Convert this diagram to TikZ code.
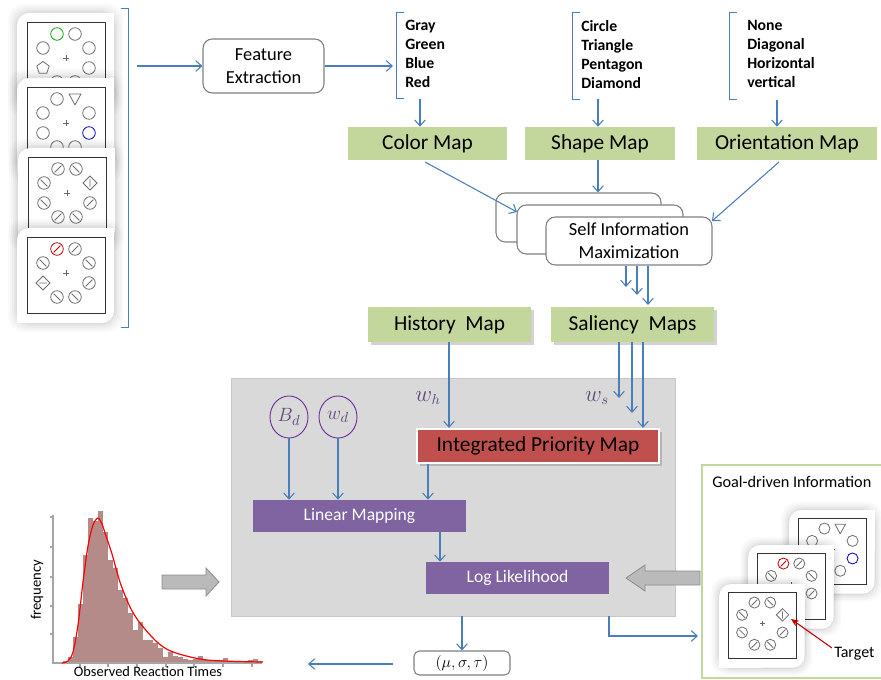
\documentclass[tikz,border=0pt]{standalone}
\usepackage{fontspec}
\setmainfont{Carlito}
\usetikzlibrary{arrows.meta,shadows,calc,shapes.geometric}
\definecolor{arrowblue}{HTML}{4A7EBB}
\definecolor{mapgreen}{HTML}{C3D69B}
\definecolor{iprred}{HTML}{C0504D}
\definecolor{lmpurple}{HTML}{8064A2}
\definecolor{boxgray}{HTML}{D9D9D9}
\definecolor{paramviolet}{HTML}{7030A0}
\definecolor{wlabel}{HTML}{5F497A}
\definecolor{histbar}{HTML}{B58B8A}
\definecolor{itemgray}{HTML}{6E6E6E}

\newcommand\itmC[3][itemgray]{\draw[#1,line width=0.6pt] (#2,#3) circle[radius=4.7pt];}
\newcommand\itmS[3][itemgray]{\draw[#1,line width=0.6pt] (#2,#3) circle[radius=4.7pt] (#2-3.3,#3+3.3) -- (#2+3.3,#3-3.3);}
\newcommand\itmB[3][itemgray]{\draw[#1,line width=0.6pt] (#2,#3) circle[radius=4.7pt] (#2-3.3,#3-3.3) -- (#2+3.3,#3+3.3);}
\newcommand\itmT[2]{\draw[itemgray,line width=0.6pt,line join=round] (#1-6,#2-5) -- (#1+6,#2-5) -- (#1,#2+6) -- cycle;}
\newcommand\itmP[2]{\draw[itemgray,line width=0.6pt,line join=round] (#1,#2-6.5) -- (#1+6.2,#2-2) -- (#1+3.8,#2+5.3) -- (#1-3.8,#2+5.3) -- (#1-6.2,#2-2) -- cycle;}
\newcommand\itmDv[2]{\draw[itemgray,line width=0.6pt] (#1,#2-7) -- (#1+7,#2) -- (#1,#2+7) -- (#1-7,#2) -- cycle (#1,#2-4) -- (#1,#2+4);}
\newcommand\itmDh[2]{\draw[itemgray,line width=0.6pt] (#1,#2-7) -- (#1+7,#2) -- (#1,#2+7) -- (#1-7,#2) -- cycle (#1-4,#2) -- (#1+4,#2);}

\newcommand\contA{\itmC[green!65!black]{30}{12}\itmC{48}{12}\itmC{16}{26}\itmC{62}{26}\itmP{16}{46}\itmC{62}{46}\itmC{30}{60}\itmC{48}{60}}
\newcommand\contB{\itmC{30}{12}\itmT{48}{12}\itmC{16}{26}\itmC{62}{26}\itmC{16}{46}\itmC[blue!75!black]{62}{46}\itmC{30}{60}\itmC{48}{60}}
\newcommand\contC{\itmS{30}{12}\itmB{48}{12}\itmB{16}{26}\itmDv{62}{26}\itmB{16}{46}\itmS{62}{46}\itmS{30}{60}\itmB{48}{60}}
\newcommand\contD{\itmS[red!75!black]{30}{12}\itmS{48}{12}\itmB{16}{26}\itmB{62}{26}\itmDh{16}{46}\itmS{62}{46}\itmB{30}{60}\itmB{48}{60}}

\newcommand\stimcard[4]{%
 \begin{scope}[shift={(#1,#2)},scale=#3]
  \foreach \g/\o in {9/0.018,7/0.022,5/0.026,3/0.03,1.5/0.035} {\fill[black,opacity=\o,rounded corners=12pt] (-10-\g,-9-\g) rectangle (87+\g,86+\g);}
  \fill[white,rounded corners=9pt] (-10,-9) rectangle (87,86);
  \fill[white] (39,-9) rectangle (87,38);
  \fill[white] (-10,38) rectangle (39,86);
  \draw[black!80,line width=0.7pt,fill=white] (0,0) rectangle (78,76);
  \draw[black!60,line width=0.5pt] (36,36) -- (42,36) (39,33) -- (39,39);
  #4
 \end{scope}}

\begin{document}
\begin{tikzpicture}[x=0.75pt,y=-0.75pt,
 arr/.style={draw=arrowblue,line width=0.8pt,-{Straight Barb[length=4.5pt,width=8pt]}},
 brk/.style={draw=arrowblue,line width=0.7pt},
 mapbox/.style={fill=mapgreen,inner sep=0pt,minimum height=24.75pt,font=\fontsize{16}{19}\selectfont},
 procbox/.style={draw=black!50,line width=0.8pt,rounded corners=7pt,fill=white,align=center,inner sep=0pt,font=\fontsize{13.8}{17.25}\selectfont},
 lmbox/.style={fill=lmpurple,text=white,inner sep=0pt,minimum height=24pt,font=\fontsize{13.2}{16}\selectfont},
 listtxt/.style={anchor=north west,inner sep=0pt,align=left,font=\bfseries\fontsize{11.8}{14.3}\selectfont},
 parm/.style={ellipse,draw=paramviolet,line width=0.7pt,fill=boxgray,inner sep=0pt,minimum width=28.5pt,minimum height=31.5pt,text=wlabel,font=\fontsize{15}{17}\selectfont},
 wlab/.style={text=wlabel,font=\fontsize{16}{18}\selectfont},
 blockarr/.style={fill=black!27,draw=black!45,line width=0.6pt},
 axis/.style={draw=black!35,line width=1.1pt}]

\useasboundingbox (0,0) rectangle (881,680);
\fill[white] (0,0) rectangle (881,680);

% ---- stimulus stack (left) ----
\stimcard{27}{22}{1}{\contA}
\stimcard{27}{87}{1}{\contB}
\stimcard{28}{157}{1}{\contC}
\stimcard{27}{237}{1}{\contD}
\draw[brk] (121,8) -- (128,8) -- (128,327) -- (121,327);
\coordinate (stackout) at (137,66);

% ---- feature extraction ----
\node[procbox,minimum width=90.75pt,minimum height=40.5pt] (fe) at (263.5,66) {Feature\\Extraction};
\draw[arr] (stackout) -- (fe.west);
\coordinate (l1in) at (393,66);
\draw[arr] (fe.east) -- (l1in);

% ---- feature lists ----
\draw[brk] (404,12) -- (396,12) -- (396,98) -- (404,98);
\node[listtxt] (list1) at (405,20) {Gray\\Green\\Blue\\Red};
\draw[brk] (580,12) -- (572,12) -- (572,99) -- (580,99);
\node[listtxt] (list2) at (581,20) {Circle\\Triangle\\Pentagon\\Diamond};
\draw[brk] (737,12) -- (729,12) -- (729,99) -- (737,99);
\node[listtxt] (list3) at (747,20) {None\\Diagonal\\Horizontal\\vertical};

% ---- maps ----
\node[mapbox,minimum width=119.25pt] (cmap) at (427.5,143.5) {Color Map};
\node[mapbox,minimum width=112.5pt] (smap) at (600,143.5) {Shape Map};
\node[mapbox,minimum width=135pt] (omap) at (787,143.5) {Orientation Map};
\coordinate (l1out) at (420,99);
\coordinate (l2out) at (598,99);
\coordinate (l3out) at (777,100);
\draw[arr] (l1out) -- (l1out |- cmap.north);
\draw[arr] (l2out) -- (l2out |- smap.north);
\draw[arr] (l3out) -- (l3out |- omap.north);

% ---- self information maximisation ----
\node[procbox,minimum width=123.75pt,minimum height=36.75pt] (sim1) at (578.5,217.5) {};
\node[procbox,minimum width=124.5pt,minimum height=36.75pt] (sim2) at (600,229.5) {};
\node[procbox,minimum width=124.5pt,minimum height=36pt] (sim3) at (629,241) {Self Information\\Maximization};
\coordinate (cm1) at (425,162);
\coordinate (si2) at (517,212);
\draw[arr] (cm1) -- (si2);
\draw[arr] (smap.south -| l2out) -- (l2out |- sim1.north);
\coordinate (om1) at (779,162);
\coordinate (si3) at (712,221);
\draw[arr] (om1) -- (si3);

% ---- history / saliency ----
\node[mapbox,minimum width=122.25pt,minimum height=26.25pt,drop shadow={shadow xshift=2pt,shadow yshift=-2pt,opacity=0.35}] (hmap) at (449.5,324.5) {History\ \ Map};
\node[mapbox,minimum width=122.25pt,minimum height=26.25pt,drop shadow={shadow xshift=2pt,shadow yshift=-2pt,opacity=0.35}] (salmap) at (632.5,324.5) {Saliency\ \ Maps};
\coordinate (sa1) at (626,0); \coordinate (sa2) at (637,0); \coordinate (sa3) at (648,0);
\coordinate (sat1) at (626,287); \coordinate (sat2) at (637,295); \coordinate (sat3) at (648,305);
\draw[arr] (sim3.south -| sa1) -- (sat1);
\draw[arr] (sim3.south -| sa2) -- (sat2);
\draw[arr] (sim3.south -| sa3) -- (sat3);

% ---- central grey block ----
\node[fill=boxgray,draw=black!22,line width=0.6pt,minimum width=333pt,minimum height=178.5pt,inner sep=0pt] (gbox) at (453,497) {};
\node[fill=iprred,draw=white,line width=1.6pt,minimum width=181.5pt,minimum height=25.5pt,inner sep=0pt,font=\fontsize{16}{19}\selectfont,drop shadow={shadow xshift=2pt,shadow yshift=-2pt,opacity=0.4}] (ipm) at (538,446) {Integrated Priority Map};
\node[parm] (bd) at (289,417) {$B_d$};
\node[parm] (wd) at (338,417) {$w_d$};
\node[lmbox,minimum width=159.75pt] (lm) at (359.5,516) {Linear Mapping};
\node[lmbox,minimum width=137.25pt] (ll) at (517.5,578) {Log Likelihood};
\node[wlab] (wh) at (428,398) {$w_h$};
\node[wlab] (ws) at (597,398) {$w_s$};

\coordinate (hm1) at (449,0);
\draw[arr] (hmap.south -| hm1) -- (ipm.north -| hm1);
\coordinate (sb1) at (619,0); \coordinate (sb2) at (632,0); \coordinate (sb3) at (643,0);
\coordinate (sbt1) at (619,398); \coordinate (sbt2) at (632,413);
\draw[arr] (salmap.south -| sb1) -- (sbt1);
\draw[arr] (salmap.south -| sb2) -- (sbt2);
\draw[arr] (salmap.south -| sb3) -- (ipm.north -| sb3);
\draw[arr] (bd.south) -- (lm.north -| bd.south);
\draw[arr] (wd.south) -- (lm.north -| wd.south);
\coordinate (ip1) at (428,0);
\draw[arr] (ipm.south -| ip1) -- (lm.north -| ip1);
\coordinate (lm1) at (440,0);
\draw[arr] (lm.south -| lm1) -- (ll.north -| lm1);

% ---- parameters output ----
\node[draw=black!50,line width=0.8pt,rounded corners=4pt,fill=white,minimum width=72pt,minimum height=18pt,inner sep=0pt,font=\fontsize{12.5}{14}\selectfont] (mst) at (462,663) {$(\mu,\sigma,\tau)$};
\draw[arr] (gbox.south -| mst.north) -- (mst.north);
\coordinate (hs1) at (393,664);
\coordinate (histend) at (308,664);
\draw[arr] (hs1) -- (histend);
\coordinate (gb1) at (609,0);
\coordinate (gp) at (698,636);
\draw[arr] (gbox.south -| gb1) |- (gp);

% ---- block arrows ----
\draw[blockarr] (162,575) -- (206,575) -- (206,568) -- (219,582) -- (206,596) -- (206,589) -- (162,589) -- cycle;
\draw[blockarr] (700,571) -- (645,571) -- (645,565) -- (626,578) -- (645,591) -- (645,585) -- (700,585) -- cycle;

% ---- histogram ----
\foreach \bx/\by in {63/661,68/657,73/637,78/604,83/555,88/518,93/521,98/511,103/532,108/560,113/568,118/590,123/598,128/613,133/630,138/622,143/640,148/640,153/643,158/648,163/657,168/652,173/656,178/657,183/659,188/660,193/659,198/656,203/660,208/661,213/661,218/660,223/658,228/661,233/661,238/661,243/661,248/660,253/659,258/661}
 {\fill[histbar] (\bx,\by) rectangle (\bx+5.2,663);}
\draw[axis] (53,515) -- (53,663) -- (262,663);
\foreach \ty in {517,547,577,606,634} {\draw[black!35,line width=0.8pt] (50,\ty) -- (53,\ty);}
\foreach \tx in {80,108,137,166,194,223,252} {\draw[black!35,line width=0.8pt] (\tx,663) -- (\tx,667);}
\draw[red,line width=0.9pt] plot[smooth,tension=0.5] coordinates {(62,663) (68,661) (73,652) (78,625) (83,582) (88,546) (93,525) (98,518) (102,524) (106,536) (112,554) (120,582) (130,607) (140,623) (157,642) (173,652) (207,660) (262,662)};
\node[font=\fontsize{10.8}{13}\selectfont,inner sep=1pt] (xlab) at (148,672) {Observed Reaction Times};
\node[font=\fontsize{11}{13}\selectfont,rotate=90] (ylab) at (37,590) {frequency};

% ---- goal-driven panel ----
\node[draw=mapgreen,line width=1pt,fill=white,minimum width=141pt,minimum height=159.75pt,inner sep=0pt] (panel) at (796,571.5) {};
\node[anchor=west,inner sep=0pt,font=\fontsize{12.2}{14}\selectfont] (gtitle) at (712,482) {Goal-driven Information};
\stimcard{798}{518}{0.88}{\contB}
\stimcard{757}{553}{0.88}{\contD}
\stimcard{728}{592}{0.88}{\contC}
\node[anchor=west,inner sep=0pt,font=\fontsize{12}{14}\selectfont] (target) at (834,654) {Target};
\coordinate (tgt) at (791,619);
\draw[red!75!black,line width=0.8pt,-{Stealth[length=6pt,width=5pt]}] (target.west) ++(-2,-6) -- (tgt);
\end{tikzpicture}
\end{document}
